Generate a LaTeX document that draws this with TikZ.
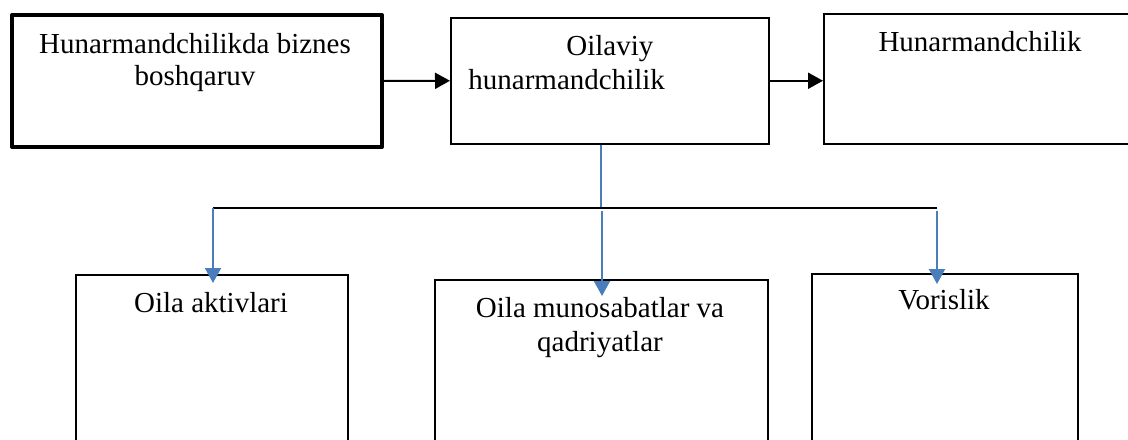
\documentclass[tikz,border=0pt]{standalone}
\usepackage{fontspec}
\setmainfont{Liberation Serif}
\usetikzlibrary{arrows.meta,calc}
\definecolor{wordblue}{RGB}{74,126,187}
\begin{document}
\begin{tikzpicture}[x=0.5pt,y=-0.5pt,
  every node/.style={font=\fontsize{14.5pt}{17pt}\selectfont},
  box/.style={draw, line width=0.75pt, inner sep=0pt, anchor=north west},
  thickbox/.style={box, line width=2pt, line join=round},
  label/.style={inner sep=0pt, align=center, anchor=north},
  blackarrow/.style={line width=1pt, -{Triangle[length=7.5pt,width=8pt]}},
  bluearrow/.style={draw=wordblue, line width=1pt, -{Triangle[length=7.5pt,width=8pt]}, color=wordblue},
  blueline/.style={draw=wordblue, line width=1pt},
  busline/.style={line width=1pt}
]
\clip (0,0) rectangle (1128,439);
\fill[white] (0,0) rectangle (1128,439);

% top row boxes
\node[thickbox, minimum width=185pt, minimum height=66pt] (b1) at (10,13) {};
\node[box, minimum width=159pt, minimum height=63pt] (b2) at (450,17) {};
\node[box, minimum width=158.5pt, minimum height=65pt] (b3) at (823,13) {};

% bottom row boxes
\node[box, minimum width=136pt, minimum height=98pt] (b4) at (75,274) {};
\node[box, minimum width=166.5pt, minimum height=95.5pt] (b5) at (434,279) {};
\node[box, minimum width=133pt, minimum height=98.5pt] (b6) at (811,273) {};

% texts
\node[label] (t1) at (195,33) {Hunarmandchilikda biznes\\[-1.2pt]boshqaruv};
\node[label, align=left, anchor=north west] (t2) at (468,35) {\hspace*{49pt}Oilaviy\\hunarmandchilik};
\node[label] (t3) at (980,31) {Hunarmandchilik};
\node[label] (t4) at (211,292) {Oila aktivlari};
\node[label] (t5) at (600,297) {Oila munosabatlar va\\qadriyatlar};
\node[label] (t6) at (944,289) {Vorislik};

% junction coordinates
\coordinate (jl) at (213,208);
\coordinate (jc) at (601,208);
\coordinate (jr) at (937,208);

% top arrows
\draw[blackarrow] (b1.east) -- (b2.west);
\draw[blackarrow] (b2.east) -- (b3.west |- b2.east);

% down connector and bus
\draw[blueline] (jc |- b2.south) -- (jc);
\draw[busline] (jl) -- (jr);
\draw[bluearrow] (jl) -- ($(jl |- b4.north)+(0,9)$);
\draw[bluearrow] ($(jc)+(1,3)$) -- ($(jc |- b5.north)+(1,17)$);
\draw[bluearrow] ($(jr)+(0,3)$) -- ($(jr |- b6.north)+(0,11)$);
\end{tikzpicture}
\end{document}
